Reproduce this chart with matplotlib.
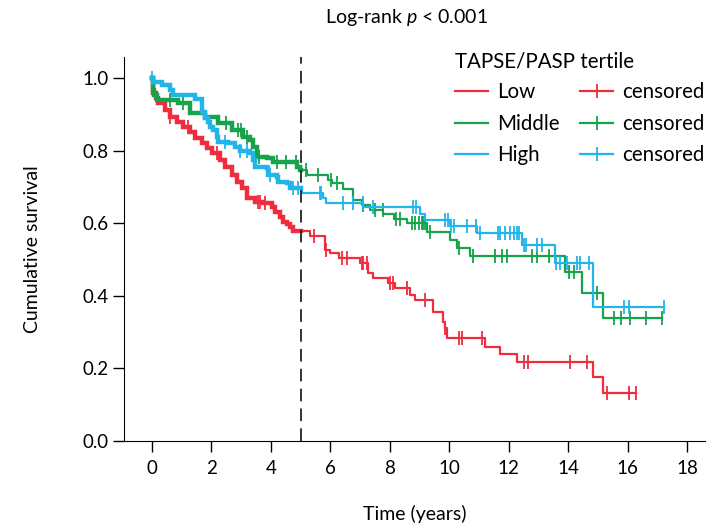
import numpy as np
import matplotlib
matplotlib.use("Agg")
import matplotlib.pyplot as plt
from matplotlib.lines import Line2D

plt.rcParams['font.family'] = ['Lato', 'DejaVu Sans']
plt.rcParams['mathtext.fontset'] = 'custom'
plt.rcParams['mathtext.it'] = 'Lato:italic'
plt.rcParams['mathtext.rm'] = 'Lato'

# Kaplan-Meier steps: event times and survival after each step
low_t = [0, 0.05, 0.12, 0.21, 0.44, 0.61, 0.83, 1.05, 1.28, 1.45, 1.67, 1.84, 2.01,
         2.29, 2.46, 2.68, 2.85, 3.02, 3.19, 3.47, 3.75, 4.03, 4.15, 4.31, 4.42, 4.53,
         4.64, 4.75, 5.3, 5.82, 5.99, 6.30, 7.00, 7.28, 7.43, 7.95, 8.18, 8.68, 8.85,
         9.44, 9.78, 9.86, 9.92, 11.2, 11.71, 12.29, 14.85, 15.16]
low_s = [1.0, 0.96, 0.945, 0.930, 0.912, 0.893, 0.880, 0.866, 0.852, 0.834, 0.820, 0.806, 0.793,
         0.774, 0.756, 0.733, 0.714, 0.696, 0.669, 0.659, 0.655, 0.645, 0.632, 0.618, 0.604, 0.598,
         0.590, 0.578, 0.565, 0.527, 0.517, 0.503, 0.490, 0.462, 0.448, 0.434, 0.421, 0.402, 0.388,
         0.356, 0.329, 0.311, 0.283, 0.260, 0.240, 0.219, 0.175, 0.131]
low_cens = [0.62, 1.2, 2.2, 3.55, 3.65, 3.8, 5.45, 5.85, 6.38, 6.55, 7.05, 7.11, 7.22, 8.01,
            8.12, 8.57, 9.19, 9.86, 10.31, 10.42, 11.09, 12.52, 12.66, 14.06, 14.63, 15.30,
            16.06, 16.29]

mid_t = [0, 0.03, 0.08, 0.16, 0.89, 1.28, 1.78, 2.23, 2.68, 3.07, 3.30, 3.41, 3.52, 3.86,
         4.08, 4.87, 4.98, 5.20, 5.93, 6.05, 6.44, 6.77, 7.05, 7.34, 7.78, 8.15, 8.57, 9.24,
         10.03, 10.25, 10.68, 13.90, 14.46, 15.16]
mid_s = [1.0, 0.967, 0.953, 0.939, 0.930, 0.903, 0.893, 0.875, 0.857, 0.838, 0.829, 0.811, 0.783, 0.779,
         0.770, 0.756, 0.747, 0.733, 0.719, 0.710, 0.693, 0.664, 0.650, 0.636, 0.625, 0.612, 0.600, 0.577,
         0.555, 0.533, 0.510, 0.466, 0.407, 0.338]
mid_cens = [0.6, 1.05, 2.5, 2.9, 3.0, 3.2, 3.6, 4.2, 4.5, 4.85, 5.18, 5.60, 6.01, 6.24, 7.09,
            7.50, 7.76, 8.21, 8.34, 8.74, 8.85, 8.99, 9.07, 9.13, 9.19, 9.35, 10.31, 10.79,
            11.54, 11.77, 11.93, 12.78, 12.94, 13.37, 14.04, 14.20, 14.96, 15.54, 15.77,
            16.08, 16.62, 17.15]

high_t = [0, 0.04, 0.33, 0.61, 0.72, 1.44, 1.67, 1.78, 1.89, 1.95, 2.06, 2.18, 2.23, 2.57,
          2.79, 2.96, 3.30, 3.41, 3.47, 3.86, 3.91, 4.20, 4.25, 4.53, 4.64, 5.04, 5.76, 5.85,
          7.11, 9.02, 9.19, 10.03, 10.92, 12.44, 13.56, 14.83]
high_s = [1.0, 0.990, 0.981, 0.967, 0.953, 0.941, 0.907, 0.889, 0.880, 0.866, 0.857, 0.838, 0.825, 0.820,
          0.809, 0.800, 0.794, 0.774, 0.756, 0.751, 0.733, 0.726, 0.714, 0.710, 0.696, 0.682, 0.669, 0.657,
          0.645, 0.625, 0.609, 0.593, 0.574, 0.540, 0.491, 0.368]
high_cens = [0.0, 2.46, 2.96, 3.19, 3.97, 4.75, 4.92, 5.65, 5.68, 6.42, 6.75, 7.09, 7.45, 8.79,
             8.88, 9.86, 9.94, 10.06, 10.17, 10.59, 10.90, 11.04, 11.65, 11.71, 11.88, 12.05,
             12.16, 12.29, 12.36, 12.50, 12.57, 12.96, 13.13, 13.59, 13.71, 13.95, 14.31,
             14.38, 14.71, 15.86, 16.06, 17.21]

groups = ['Low', 'Middle', 'High']
colors = ['#ee2d3e', '#16a34b', '#21b5ea']
landmark = 5.0


def surv_at(x, times, surv):
    times = np.asarray(times)
    idx = np.searchsorted(times, x, side='right') - 1
    return np.asarray(surv)[idx]


fig = plt.figure(figsize=(7.13, 5.24), dpi=100)
ax = fig.add_axes([124 / 713, 1 - 441 / 524, (705 - 124) / 713, (441 - 57) / 524])

data = [(low_t, low_s, low_cens), (mid_t, mid_s, mid_cens), (high_t, high_s, high_cens)]
for (t, s, c), col in zip(data, colors):
    t = np.asarray(t)
    end = max(c[-1], t[-1])
    x1 = np.r_[t[t < landmark], landmark]
    ax.step(x1, surv_at(x1, t, s), where='post', color=col, lw=3.2, solid_joinstyle='miter')
    x2 = np.r_[landmark, t[t > landmark], end]
    ax.step(x2, surv_at(x2, t, s), where='post', color=col, lw=1.6)
    c = np.asarray(c)
    ax.plot(c, surv_at(c, t, s), ls='none', marker='|', ms=10, mew=1.3, color=col)

ax.axvline(landmark, color='#222222', lw=1.3, ls=(0, (7, 4)))

ax.set_xlim(-0.94, 18.6)
ax.set_ylim(0, 1.058)
ax.set_xticks(range(0, 19, 2))
ax.set_yticks([0.0, 0.2, 0.4, 0.6, 0.8, 1.0])
ax.set_yticklabels(['0.0', '0.2', '0.4', '0.6', '0.8', '1.0'])
ax.tick_params(length=8, width=1, labelsize=13.5)
ax.tick_params(axis='x', pad=6)
ax.tick_params(axis='y', pad=3)
for side in ['top', 'right']:
    ax.spines[side].set_visible(False)
ax.set_xlabel('Time (years)', fontsize=14, labelpad=20)
ax.set_ylabel('Cumulative survival', fontsize=14, labelpad=30)

fig.text(407 / 713, 1 - 18 / 524, 'Log-rank $p$ < 0.001', ha='center', va='center', fontsize=14)

handles = [Line2D([], [], color=col, lw=1.6) for col in colors]
handles += [Line2D([], [], color=col, lw=1.6, marker='|', ms=10, mew=1.3) for col in colors]
labels = groups + ['censored'] * 3
leg = fig.legend(handles, labels, ncol=2, loc='upper right', bbox_to_anchor=(1.0, 0.918),
                 frameon=False, fontsize=14.8, title='TAPSE/PASP tertile', title_fontsize=14.8,
                 alignment='left', numpoints=1, handlelength=1.6, handletextpad=0.45,
                 columnspacing=1.0, labelspacing=0.55, borderaxespad=0.0)

fig.savefig('out.png', dpi=100)
